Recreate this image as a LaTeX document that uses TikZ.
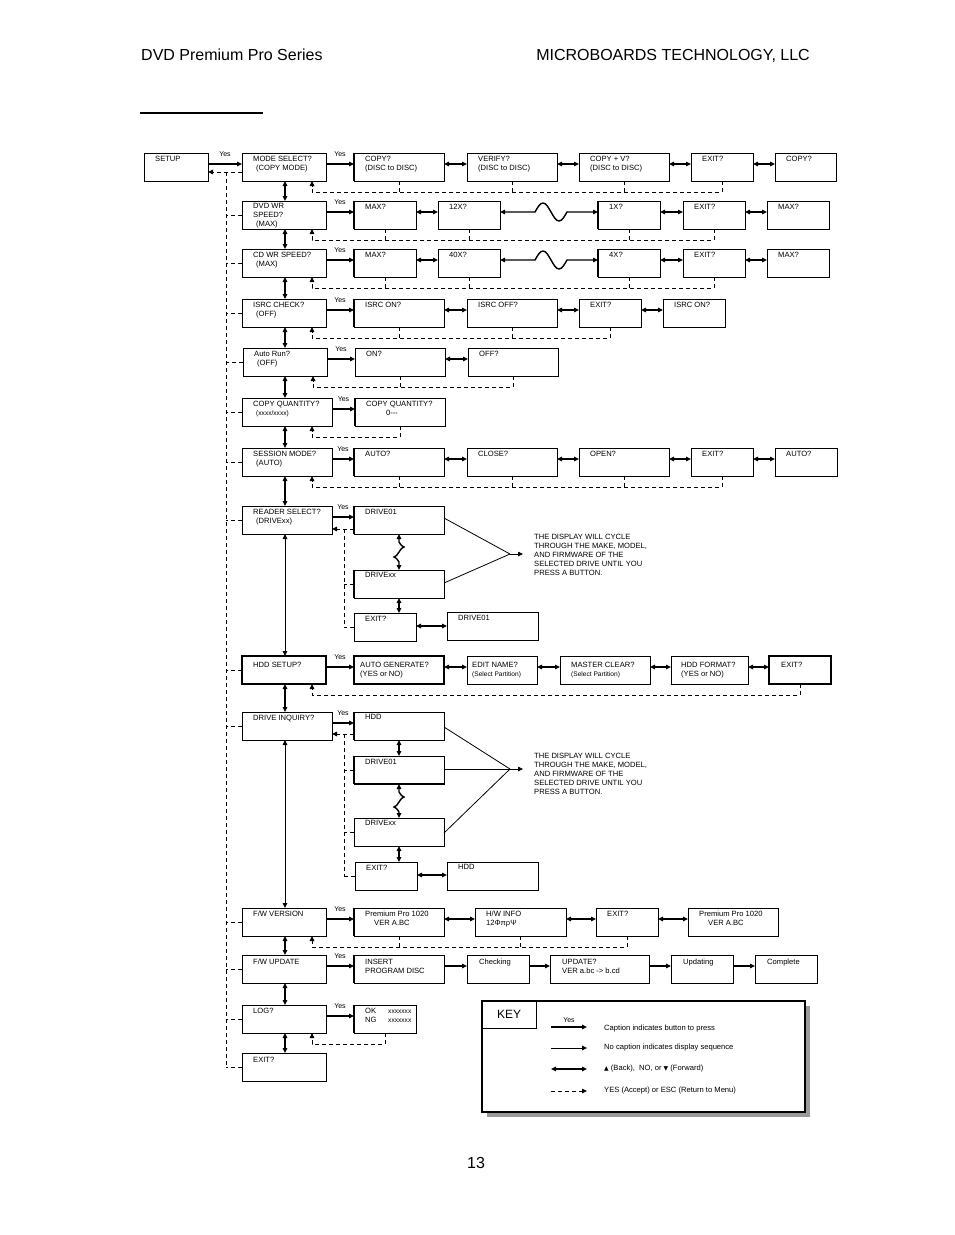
\documentclass[tikz,border=0pt]{standalone}
\usepackage{fontspec}
\setmainfont{Liberation Sans}
\newfontfamily\dejavu{DejaVu Sans}
\usetikzlibrary{arrows.meta,calc,shadows}
\newcommand\fs{\fontsize{7.6}{9}\selectfont}
\newcommand\fy{\fontsize{7}{8}\selectfont}
\newcommand\fsm{\fontsize{6.6}{9}\selectfont}
\newcommand\ind{\hspace*{3pt}}
\tikzset{
 >={Triangle[length=5pt,width=4.5pt]},
 bx/.style={draw,line width=0.9pt,anchor=north west,minimum height=28pt,inner sep=0pt,outer sep=0pt},
 tx/.style={anchor=north west,inner sep=0pt,align=left,font=\fs},
 yesln/.style={line width=1.3pt,->},
 seq/.style={line width=1.3pt,->},
 dbl/.style={line width=1.4pt,<->},
 dsh/.style={line width=0.9pt,dash pattern=on 4pt off 3pt},
 dsharr/.style={dsh,->},
 yl/.style={font=\fy,above=7pt,inner sep=0pt},
 conv/.style={line width=0.8pt},
 cyc/.style={anchor=west,inner sep=0pt,align=left,font=\fs},
 thk/.style={line width=1.8pt}
}
\newcommand\B[6][11,2.5]{%
  \node[bx,minimum width=#5pt] (#2) at (#3,#4) {};
  \node[tx] (#2t) at ($(#2.north west)+(#1)$) {#6};}
\newcommand\Y[2]{\draw[yesln] ($(#1.north east)+(0,11)$) -- node[yl]{Yes} ($(#2.north west)+(0,11)$);}
\newcommand\D[2]{\draw[dbl] ($(#1.north east)+(0,11)$) -- ($(#2.north west)+(0,11)$);}
\newcommand\Sq[2]{\draw[seq] ($(#1.north east)+(0,11)$) -- ($(#2.north west)+(0,11)$);}
\newcommand\W[2]{\draw[dbl] ($(#1.north east)+(0,11)$) -- ++(35,0) sin ++(8,-9) cos ++(8,9) sin ++(8,9) cos ++(8,-9) -- ($(#2.north west)+(0,11)$);}
\newcommand\R[2]{\draw[dsharr] (#1.south) -- ++(0,11) -| ($(#2.south west)+(70,0)$);}
\newcommand\Dr[1]{\foreach \o in {#1}{\draw[dsh] (\o.south) -- ++(0,11);}}
\newcommand\V[3][]{\draw[dbl,#1] (cx |- #2.south) -- (cx |- #3.north);}
\newcommand\VW[2]{\draw[dbl] (#1.south) -- ++(0,8) sin ++(5,5) cos ++(-5,5) sin ++(-5,5) cos ++(5,5) -- (#1.south |- #2.north);}
\newcommand\TL[1]{\draw[thk] (#1.north west) -- (#1.south west);}
\begin{document}
\begin{tikzpicture}[x=1pt,y=-1pt]
\useasboundingbox (0,0) rectangle (954,1235);
\fill[white] (0,0) rectangle (954,1235);
\coordinate (cx) at (285,0);
\coordinate (sp) at (226,0);
\coordinate (rs) at (344,0);

% header
\node[anchor=base west,inner sep=0pt,font=\fontsize{16}{19}\selectfont] (hl) at (141,60) {DVD Premium Pro Series};
\node[anchor=base east,inner sep=0pt,font=\fontsize{16}{19}\selectfont] (hr) at (810,60) {MICROBOARDS TECHNOLOGY, LLC};
\draw[line width=1.5pt] (140,113) -- (263,113);
\node[anchor=base,inner sep=0pt,font=\fontsize{16}{19}\selectfont] (pg) at (476,1168) {13};

% row 1
\B{setup}{144}{153}{64}{SETUP}
\B{mode}{242}{153}{84}{MODE SELECT?\\\ind(COPY MODE)}
\B{copyA}{354}{153}{90}{COPY?\\(DISC to DISC)}
\B{verify}{467}{153}{90}{VERIFY?\\(DISC to DISC)}
\B{copyv}{579}{153}{90}{COPY + V?\\(DISC to DISC)}
\B{exitA}{691}{153}{62}{EXIT?}
\B{copyB}{775}{153}{61}{COPY?}
\Y{setup}{mode} \Y{mode}{copyA} \D{copyA}{verify} \D{verify}{copyv} \D{copyv}{exitA} \D{exitA}{copyB}
\R{exitA}{mode} \Dr{copyA,verify,copyv}
\TL{copyA}

% row 2
\B{dvd}{242}{201}{84}{DVD WR\\SPEED?\\\ind(MAX)}
\B{maxA}{354}{201}{62}{MAX?}
\B{xii}{438}{201}{62}{12X?}
\B{xi}{598}{201}{62}{1X?}
\B{exitB}{683}{201}{62}{EXIT?}
\B{maxB}{767}{201}{62}{MAX?}
\Y{dvd}{maxA} \D{maxA}{xii} \W{xii}{xi} \D{xi}{exitB} \D{exitB}{maxB}
\R{exitB}{dvd} \Dr{maxA,xii,xi}
\TL{maxA} \TL{xi}

% row 3
\B{cd}{242}{249}{84}{CD WR SPEED?\\\ind(MAX)}
\B{maxC}{354}{249}{62}{MAX?}
\B{xl}{438}{249}{62}{40X?}
\B{xiv}{598}{249}{62}{4X?}
\B{exitC}{683}{249}{62}{EXIT?}
\B{maxD}{767}{249}{62}{MAX?}
\Y{cd}{maxC} \D{maxC}{xl} \W{xl}{xiv} \D{xiv}{exitC} \D{exitC}{maxD}
\R{exitC}{cd} \Dr{maxC,xl,xiv}
\TL{maxC} \TL{xiv}

% row 4
\B{isrc}{242}{299}{84}{ISRC CHECK?\\\ind(OFF)}
\B{ionA}{354}{299}{90}{ISRC ON?}
\B{ioff}{467}{299}{90}{ISRC OFF?}
\B{exitD}{579}{299}{62}{EXIT?}
\B{ionB}{663}{299}{62}{ISRC ON?}
\Y{isrc}{ionA} \D{ionA}{ioff} \D{ioff}{exitD} \D{exitD}{ionB}
\R{exitD}{isrc} \Dr{ionA,ioff}
\TL{ionA}

% row 5
\B{arun}{243}{348}{84}{Auto Run?\\\ind(OFF)}
\B{onE}{355}{348}{90}{ON?}
\B{offE}{468}{348}{90}{OFF?}
\Y{arun}{onE} \D{onE}{offE}
\R{offE}{arun} \Dr{onE}

% row 6
\B{cq}{242}{398}{90}{COPY QUANTITY?\\\ind{\fsm(xxxx/xxxx)}}
\B{cqB}{355}{398}{90}{COPY QUANTITY?\\\hspace*{20pt}0{-}{-}{-}}
\Y{cq}{cqB}
\R{cqB}{cq}
\TL{cqB}

% row 7
\B{sess}{242}{448}{90}{SESSION MODE?\\\ind(AUTO)}
\B{autoA}{354}{448}{90}{AUTO?}
\B{close}{467}{448}{90}{CLOSE?}
\B{open}{579}{448}{90}{OPEN?}
\B{exitE}{691}{448}{62}{EXIT?}
\B{autoB}{775}{448}{62}{AUTO?}
\Y{sess}{autoA} \D{autoA}{close} \D{close}{open} \D{open}{exitE} \D{exitE}{autoB}
\R{exitE}{sess} \Dr{autoA,close,open}
\TL{autoA}

% row 8 reader select
\B{reader}{242}{506}{90}{READER SELECT?\\\ind(DRIVExx)}
\B{dA}{354}{506}{90}{DRIVE01}
\B{dxA}{354}{570}{90}{DRIVExx}
\B{exitF}{354}{613}{62}{EXIT?}
\B{dB}{447}{612}{91}{DRIVE01}
\Y{reader}{dA}
\VW{dA}{dxA}
\draw[dbl] (dxA.south) -- (dxA.south |- exitF.north);
\coordinate (eF) at ($(exitF.north east)+(0,13)$);
\draw[dbl] (eF) -- (eF -| dB.west);
\draw[dsharr] ($(dA.north west)+(0,23)$) -- ($(reader.north east)+(0,23)$);
\draw[dsh] ($(dA.north west)+(-10,23)$) -- (rs |- exitF.west);
\draw[dsh] (dxA.west) -- (rs |- dxA.west);
\draw[dsh] (exitF.west) -- (rs |- exitF.west);
\TL{dA} \TL{dxA}
\coordinate (cA) at (510,554);
\draw[conv] ($(dA.north east)+(0,12)$) -- (cA);
\draw[conv] ($(dxA.north east)+(0,13)$) -- (cA);
\draw[conv,->] (cA) -- ++(13,0);
\node[cyc] (cycA) at (534,555) {THE DISPLAY WILL CYCLE\\THROUGH THE MAKE, MODEL,\\AND FIRMWARE OF THE\\SELECTED DRIVE UNTIL YOU\\PRESS A BUTTON.};

% row 9 hdd setup
\B[11,5.5]{hdd}{242}{656}{84}{HDD SETUP?}
\B[6,5.5]{agen}{354}{656}{90}{AUTO GENERATE?\\(YES or NO)}
\B[5,5.5]{ename}{467}{656}{70}{EDIT NAME?\\{\fsm(Select Partition)}}
\B[11,5.5]{mclr}{560}{656}{90}{MASTER CLEAR?\\{\fsm(Select Partition)}}
\B[10,5.5]{hfmt}{671}{656}{77}{HDD FORMAT?\\(YES or NO)}
\B[12,5.5]{exitG}{769}{656}{62}{EXIT?}
\draw[thk] (hdd.north west) rectangle (hdd.south east);
\draw[thk] (agen.north west) rectangle (agen.south east);
\draw[thk] (exitG.north west) rectangle (exitG.south east);
\Y{hdd}{agen} \D{agen}{ename} \D{ename}{mclr} \D{mclr}{hfmt} \D{hfmt}{exitG}
\R{exitG}{hdd}

% row 10 drive inquiry
\B{inq}{242}{712}{90}{DRIVE INQUIRY?}
\B{hA}{354}{712}{90}{HDD}
\B{dC}{354}{756}{90}{DRIVE01}
\B{dxC}{354}{818}{90}{DRIVExx}
\B{exitH}{355}{862}{62}{EXIT?}
\B{hB}{447}{862}{91}{HDD}
\Y{inq}{hA}
\draw[dbl] (hA.south) -- (hA.south |- dC.north);
\VW{dC}{dxC}
\draw[dbl] (dxC.south) -- (dxC.south |- exitH.north);
\coordinate (eH) at ($(exitH.north east)+(0,13)$);
\draw[dbl] (eH) -- (eH -| hB.west);
\draw[dsharr] ($(hA.north west)+(0,22)$) -- ($(inq.north east)+(0,22)$);
\draw[dsh] ($(hA.north west)+(-10,22)$) -- (rs |- exitH.west);
\draw[dsh] (dC.west) -- (rs |- dC.west);
\draw[dsh] (dxC.west) -- (rs |- dxC.west);
\draw[dsh] (exitH.west) -- (rs |- exitH.west);
\TL{hA} \TL{dC}
\draw[thk] (dC.south west) -- (dC.south east);
\coordinate (cB) at (510,769);
\draw[conv] ($(hA.north east)+(0,15)$) -- (cB);
\draw[conv] ($(dC.north east)+(0,13)$) -- (cB);
\draw[conv] ($(dxC.north east)+(0,15)$) -- (cB);
\draw[conv,->] (cB) -- ++(13,0);
\node[cyc] (cycB) at (534,774) {THE DISPLAY WILL CYCLE\\THROUGH THE MAKE, MODEL,\\AND FIRMWARE OF THE\\SELECTED DRIVE UNTIL YOU\\PRESS A BUTTON.};

% row 11 fw version
\B{fwv}{242}{908}{84}{F/W VERSION}
\B{pA}{354}{908}{90}{Premium Pro 1020\\\hspace*{9pt}VER A.BC}
\B{hw}{475}{908}{91}{H/W INFO\\12ΦπρΨ}
\B{exitI}{596}{908}{62}{EXIT?}
\B{pB}{688}{908}{90}{Premium Pro 1020\\\hspace*{9pt}VER A.BC}
\Y{fwv}{pA} \D{pA}{hw} \D{hw}{exitI} \D{exitI}{pB}
\R{exitI}{fwv} \Dr{pA,hw}
\TL{pA}

% row 12 fw update
\B[11,3.5]{fwu}{242}{955}{84}{F/W UPDATE}
\B[11,3.5]{ins}{354}{955}{90}{INSERT\\PROGRAM DISC}
\B[12,3.5]{chk}{467}{955}{62}{Checking}
\B[12,3.5]{upd}{550}{955}{99}{UPDATE?\\VER a.bc -> b.cd}
\B[12,3.5]{upg}{671}{955}{62}{Updating}
\B[12,3.5]{cmp}{755}{955}{62}{Complete}
\Y{fwu}{ins} \Sq{ins}{chk} \Sq{chk}{upd} \Sq{upd}{upg} \Sq{upg}{cmp}
\TL{ins}

% row 13 log
\B{log}{242}{1005}{84}{LOG?}
\B{okng}{354}{1005}{62}{\makebox[23pt][l]{OK}{\fsm xxxxxxx}\\\makebox[23pt][l]{NG}{\fsm xxxxxxx}}
\Y{log}{okng}
\R{okng}{log}
\TL{okng}

% row 14
\B[11,3.5]{exitJ}{242}{1053}{84}{EXIT?}

% main column arrows
\V{mode}{dvd} \V{dvd}{cd} \V{cd}{isrc} \V{isrc}{arun} \V{arun}{cq} \V{cq}{sess} \V{sess}{reader}
\V[line width=1pt]{reader}{hdd} \V{hdd}{inq} \V[line width=1pt]{inq}{fwv} \V{fwv}{fwu} \V{fwu}{log} \V{log}{exitJ}

% left spine
\draw[dsharr] ($(mode.north west)+(0,19)$) -- ($(setup.north east)+(0,19)$);
\draw[dsh] ($(mode.north west)+(-16,19)$) -- (sp |- exitJ.west);
\foreach \m in {dvd,cd,isrc,arun,cq,sess,reader,hdd,inq,fwv,fwu,log,exitJ}{\draw[dsh] (\m.west) -- (sp |- \m.west);}

% key
\node[draw,line width=1.6pt,fill=white,minimum width=323pt,minimum height=111pt,anchor=north west,inner sep=0pt,
  general shadow={fill=black!40,shadow xshift=5pt,shadow yshift=-5pt}] (key) at (481,1000) {};
\node[draw,line width=1.2pt,minimum width=55pt,minimum height=28pt,anchor=north west,inner sep=0pt,font=\fontsize{12}{14}\selectfont] (keylbl) at (481,1000) {KEY};
\coordinate (ka1) at (551,1027); \coordinate (kb1) at (587,1027);
\coordinate (ka2) at (551,1048); \coordinate (kb2) at (587,1048);
\coordinate (ka3) at (551,1069); \coordinate (kb3) at (587,1069);
\coordinate (ka4) at (551,1091); \coordinate (kb4) at (587,1091);
\draw[yesln] (ka1) -- node[font=\fy,above=4pt,inner sep=0pt] (kyes) {Yes} (kb1);
\draw[seq,line width=1pt] (ka2) -- (kb2);
\draw[dbl] (ka3) -- (kb3);
\draw[dsharr] (ka4) -- (kb4);
\node[cyc] (kt1) at (604,1029) {Caption indicates button to press};
\node[cyc] (kt2) at (604,1048) {No caption indicates display sequence};
\node[cyc] (kt3) at (604,1069) {{\dejavu\fontsize{6}{6}\selectfont ▲} (Back),\ \ NO, or {\dejavu\fontsize{6}{6}\selectfont ▼} (Forward)};
\node[cyc] (kt4) at (604,1091) {YES (Accept) or ESC (Return to Menu)};
\end{tikzpicture}
\end{document}
